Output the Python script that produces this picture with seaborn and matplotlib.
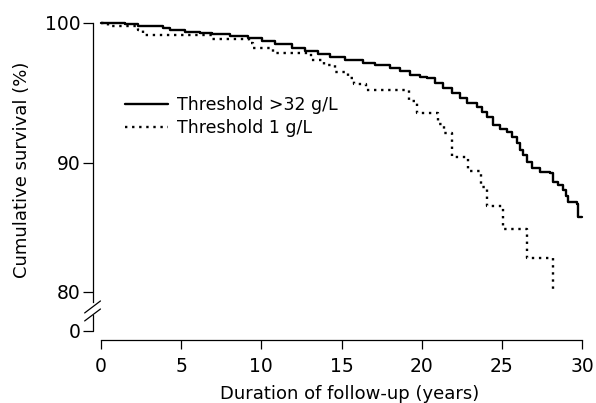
import numpy as np
import pandas as pd
import matplotlib
matplotlib.use("Agg")
import matplotlib.pyplot as plt
import seaborn as sns

# survival curves (step points, % surviving)
years_high = [0, 0.44, 1.5, 2.31, 3.49, 3.87, 4.30, 5.24, 6.18, 6.92, 8.05, 9.17, 10.04,
              10.86, 11.92, 12.73, 13.54, 14.29, 15.22, 16.34, 17.09, 18.03, 18.65, 19.28,
              19.90, 20.34, 20.84, 21.34, 21.90, 22.40, 22.85, 23.46, 23.77, 24.08, 24.45,
              24.89, 25.33, 25.64, 25.95, 26.14, 26.33, 26.58, 26.89, 27.39, 28.01, 28.20,
              28.51, 28.82, 29.01, 29.13, 29.69, 29.76, 30.0]
surv_high = [100, 99.98, 99.93, 99.8, 99.8, 99.64, 99.5, 99.36, 99.29, 99.21, 99.07, 98.93,
             98.71, 98.5, 98.21, 98.0, 97.79, 97.57, 97.36, 97.14, 97.0, 96.79, 96.57, 96.29,
             96.14, 96.07, 95.71, 95.36, 95.0, 94.64, 94.29, 94.0, 93.64, 93.29, 92.71,
             92.43, 92.21, 91.86, 91.43, 90.93, 90.57, 90.07, 89.61, 89.30, 89.22, 88.53,
             88.29, 87.91, 87.44, 86.98, 86.82, 85.81, 85.81]

years_low = [0, 0.45, 2.3, 2.6, 6.9, 9.2, 9.5, 10.7, 13.1, 13.9, 14.6, 15.4, 15.8, 16.5,
             19.2, 19.7, 21.0, 21.4, 21.9, 22.9, 23.7, 24.1, 25.1, 26.6, 28.2]
surv_low = [100, 99.8, 99.5, 99.14, 98.86, 98.57, 98.2, 97.86, 97.36, 97.0, 96.5, 96.07,
            95.64, 95.21, 94.43, 93.57, 92.79, 92.14, 90.43, 89.38, 88.14, 86.67, 84.88,
            82.64, 80.08]

series_names = ["Threshold >32 g/L", "Threshold 1 g/L"]
x_ticks = [0, 5, 10, 15, 20, 25, 30]
y_ticks = [0, 80, 90, 100]

df = pd.concat([
    pd.DataFrame({"years": years_high, "survival": surv_high, "group": series_names[0]}),
    pd.DataFrame({"years": years_low, "survival": surv_low, "group": series_names[1]}),
], ignore_index=True)

sns.set_style("ticks")
plt.rcParams["font.family"] = ["DejaVu Sans"]
plt.rcParams.update({"text.color": "black", "axes.labelcolor": "black"})

fig = plt.figure(figsize=(5.96, 4.03), dpi=100)
ax = fig.add_axes([0.1695, 0.1787, 0.807, 0.7643])

# broken y axis: 0 sits just below 80, and the 80-100 span is slightly uneven
knots_v = [0, 80, 90, 100, 110]
knots_p = [0, 39, 168, 308, 448]
ax.set_yscale("function", functions=(lambda v: np.interp(v, knots_v, knots_p),
                                     lambda p: np.interp(p, knots_p, knots_v)))

sns.lineplot(data=df, x="years", y="survival", style="group", style_order=series_names,
             dashes={series_names[0]: "", series_names[1]: (1, 2)},
             color="black", lw=1.7, estimator=None, drawstyle="steps-post",
             clip_on=False, ax=ax)

ax.set_xlim(0, 30)
ax.set_ylim(0, 100)
ax.set_xticks(x_ticks)
ax.set_yticks(y_ticks)
ax.tick_params(axis="both", labelsize=13.5, width=0.9, color="black", labelcolor="black")
ax.tick_params(axis="y", length=7, pad=2)
ax.tick_params(axis="x", length=6.5, pad=5.5)

sns.despine(ax=ax)
ax.spines["left"].set_position(("outward", 5.8))
ax.spines["bottom"].set_position(("outward", 6.5))
for s in ("left", "bottom"):
    ax.spines[s].set_linewidth(0.9)
    ax.spines[s].set_color("black")
ax.spines["bottom"].set_bounds(0, 30)
ax.spines["left"].set_bounds(59, 100)

spine_tr = ax.spines["left"].get_spine_transform()
ax.plot([0, 0], [0, 32], transform=spine_tr, color="black", lw=0.9, clip_on=False)
ax.plot([-0.0173, 0.0156], [37.0, 61.6], transform=spine_tr, color="black", lw=0.9, clip_on=False)
ax.plot([-0.0173, 0.0156], [20.6, 45.1], transform=spine_tr, color="black", lw=0.9, clip_on=False)

ax.set_xlabel("Duration of follow-up (years)", fontsize=13, va="center")
ax.xaxis.set_label_coords(0.516, -0.205)
ax.set_ylabel("Cumulative survival (%)", fontsize=13, va="center")
ax.yaxis.set_label_coords(-0.164, 0.523)

handles, labels = ax.get_legend_handles_labels()
ax.legend(handles, labels, loc="center left", bbox_to_anchor=(0.05, 0.696),
          frameon=False, fontsize=12.5, handlelength=2.5, handletextpad=0.5,
          labelspacing=0.25, borderpad=0, borderaxespad=0)

fig.savefig("out.png", dpi=100)
